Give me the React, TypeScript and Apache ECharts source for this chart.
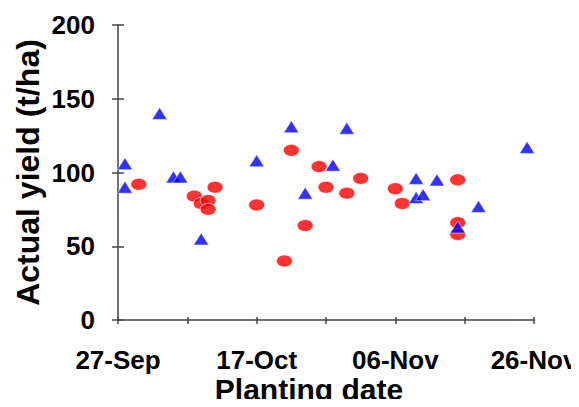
import React, { useEffect, useRef } from "react";
import * as echarts from "echarts";

// Planting date as days after 27-Sep; actual yield (t/ha)
const redDays = [3, 11, 12, 13, 13, 14, 20, 24, 25, 27, 29, 30, 33, 35, 40, 41, 49, 49, 49];
const redYield = [92, 84, 79, 81, 75, 90, 78, 40, 115, 64, 104, 90, 86, 96, 89, 79, 95, 66, 58];

const blueDays = [1, 1, 6, 8, 9, 12, 20, 25, 27, 31, 33, 43, 43, 44, 46, 49, 52, 59];
const blueYield = [106, 90, 140, 97, 97, 55, 108, 131, 86, 105, 130, 96, 83, 85, 95, 63, 77, 117];

const xMin = 0;
const xMax = 60;
const xInterval = 10;
const xLabelEvery = 20;
const yMin = 0;
const yMax = 200;
const yInterval = 50;
const startDate = { year: 2001, month: 8, day: 27 };
const monthNames = ["Jan", "Feb", "Mar", "Apr", "May", "Jun", "Jul", "Aug", "Sep", "Oct", "Nov", "Dec"];

const xTitle = "Planting date";
const yTitle = "Actual yield (t/ha)";

function dayLabel(v: number): string {
  if (v % xLabelEvery !== 0) return "";
  const d = new Date(Date.UTC(startDate.year, startDate.month, startDate.day + v));
  const dd = String(d.getUTCDate()).padStart(2, "0");
  return `${dd}-${monthNames[d.getUTCMonth()]}`;
}

const FONT = "'Liberation Sans', Arial, Helvetica, sans-serif";

export default function App() {
  const ref = useRef<HTMLDivElement>(null);
  useEffect(() => {
    if (!ref.current) return;
    const chart = echarts.init(ref.current, undefined, { renderer: "svg" });
    const axisLine = { show: true, lineStyle: { color: "#444", width: 1.5 } };
    const option: any = {
      animation: false,
      backgroundColor: "#fff",
      grid: { left: 118, right: 45, top: 25, bottom: 87, containLabel: false, outerBoundsMode: "none" },
      xAxis: [
        {
          type: "value",
          min: xMin,
          max: xMax,
          interval: xInterval,
          axisLine,
          axisTick: { show: true, inside: false, length: 4, lineStyle: { color: "#444", width: 1.5 } },
          splitLine: { show: false },
          axisLabel: {
            formatter: dayLabel,
            fontFamily: FONT,
            fontWeight: "bold",
            fontSize: 26,
            color: "#000",
            margin: 27,
            showMaxLabel: true,
            showMinLabel: true,
          },
          name: xTitle,
          nameLocation: "middle",
          nameGap: 54,
          nameMoveOverlap: false,
          nameTextStyle: {
            fontFamily: FONT,
            fontWeight: "bold",
            fontSize: 30,
            color: "#000",
            padding: [0, 34, 0, 0],
          },
        },
        {
          type: "value",
          min: xMin,
          max: xMax,
          interval: xInterval,
          position: "bottom",
          axisLine: { show: false },
          axisTick: { show: true, inside: true, length: 3, lineStyle: { color: "#444", width: 1.5 } },
          splitLine: { show: false },
          axisLabel: { show: false },
        },
      ],
      yAxis: [
        {
          type: "value",
          min: yMin,
          max: yMax,
          interval: yInterval,
          axisLine,
          axisTick: { show: true, inside: false, length: 6, lineStyle: { color: "#444", width: 1.5 } },
          splitLine: { show: false },
          axisLabel: {
            fontFamily: FONT,
            fontWeight: "bold",
            fontSize: 26,
            color: "#000",
            margin: 23,
          },
          name: yTitle,
          nameLocation: "middle",
          nameGap: 74,
          nameMoveOverlap: false,
          nameTextStyle: {
            fontFamily: FONT,
            fontWeight: "bold",
            fontSize: 32,
            color: "#000",
          },
        },
        {
          type: "value",
          min: yMin,
          max: yMax,
          interval: yInterval,
          position: "left",
          axisLine: { show: false },
          axisTick: { show: true, inside: true, length: 6, lineStyle: { color: "#444", width: 1.5 } },
          splitLine: { show: false },
          axisLabel: { show: false },
        },
      ],
      series: [
        {
          type: "scatter",
          xAxisIndex: 0,
          yAxisIndex: 0,
          symbol: "circle",
          symbolSize: [16, 12],
          itemStyle: { color: "#ff0000", borderColor: "#fff", borderWidth: 0.8 },
          data: redDays.map((d, i) => [d, redYield[i]]),
        },
        {
          type: "scatter",
          xAxisIndex: 0,
          yAxisIndex: 0,
          symbol: "triangle",
          symbolSize: [15, 12],
          itemStyle: { color: "#0000ee", borderColor: "#fff", borderWidth: 0.6 },
          data: blueDays.map((d, i) => [d, blueYield[i]]),
        },
      ],
    };
    chart.setOption(option);
    return () => chart.dispose();
  }, []);
  return <div ref={ref} style={{ width: 579, height: 407, margin: -8 }} />;
}
